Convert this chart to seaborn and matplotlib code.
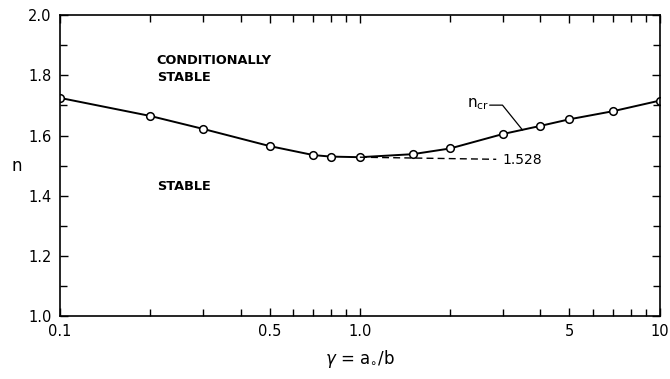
import matplotlib
matplotlib.use("Agg")
import matplotlib.pyplot as plt
import seaborn as sns
import pandas as pd
from matplotlib.ticker import FixedLocator, FixedFormatter, NullFormatter

sns.set_theme(style="ticks")
plt.rcParams['font.family'] = ['DejaVu Sans']
plt.rcParams['text.color'] = 'black'
plt.rcParams['axes.labelcolor'] = 'black'

gamma = [0.1, 0.2, 0.3, 0.5, 0.7, 0.8, 1.0, 1.5, 2.0, 3.0, 4.0, 5.0, 7.0, 10.0]
n_cr = [1.725, 1.665, 1.622, 1.565, 1.535, 1.530, 1.528, 1.538, 1.557, 1.605, 1.632, 1.654, 1.681, 1.716]
xticks_major = [0.1, 0.5, 1.0, 5, 10]
xtick_labels = ["0.1", "0.5", "1.0", "5", "10"]
xticks_minor = [0.2, 0.3, 0.4, 0.6, 0.7, 0.8, 0.9, 2, 3, 4, 6, 7, 8, 9]
yticks_major = [1.0, 1.2, 1.4, 1.6, 1.8, 2.0]
ytick_labels = ["1.0", "1.2", "1.4", "1.6", "1.8", "2.0"]
yticks_minor = [1.1, 1.3, 1.5, 1.7, 1.9]
n_min = 1.528

df = pd.DataFrame({"gamma": gamma, "n": n_cr})

fig = plt.figure(figsize=(6.7, 3.79), dpi=100)
ax = fig.add_axes([0.0896, 0.166, 0.895, 0.794])

sns.lineplot(data=df, x="gamma", y="n", ax=ax, color="black", linewidth=1.4,
             marker="o", markersize=5.5, markerfacecolor="white",
             markeredgecolor="black", markeredgewidth=1.1)

ax.set_xscale("log")
ax.set_xlim(0.1, 10)
ax.set_ylim(1.0, 2.0)

ax.xaxis.set_major_locator(FixedLocator(xticks_major))
ax.xaxis.set_major_formatter(FixedFormatter(xtick_labels))
ax.xaxis.set_minor_locator(FixedLocator(xticks_minor))
ax.xaxis.set_minor_formatter(NullFormatter())
ax.yaxis.set_major_locator(FixedLocator(yticks_major))
ax.yaxis.set_major_formatter(FixedFormatter(ytick_labels))
ax.yaxis.set_minor_locator(FixedLocator(yticks_minor))
ax.yaxis.set_minor_formatter(NullFormatter())

ax.tick_params(which="both", direction="in", top=True, right=True, colors="black",
               labelsize=10.5, width=1.0)
ax.tick_params(which="major", length=6, pad=6)
ax.tick_params(which="minor", length=5)
for s in ax.spines.values():
    s.set_linewidth(1.2)
    s.set_color("black")

ax.set_xlabel(r"$\gamma$ = a$_{\circ}$/b", fontsize=12, labelpad=6)
ax.set_ylabel("n", fontsize=12, rotation=0, va="center")
ax.yaxis.set_label_coords(-0.072, 0.5)

ax.text(0.21, 1.822, "CONDITIONALLY\nSTABLE", fontsize=9.3, fontweight="semibold",
        ha="left", va="center", linespacing=1.4)
ax.text(0.21, 1.429, "STABLE", fontsize=9.3, fontweight="semibold", ha="left", va="center")

ax.plot([1.0, 2.85], [n_min, n_min - 0.007], color="black", linewidth=1.0,
        linestyle=(0, (5, 3)))
ax.text(3.0, n_min - 0.01, "1.528", fontsize=10, ha="left", va="center")

ax.text(2.47, 1.705, "n$_{\\rm cr}$", fontsize=11, ha="center", va="center")
ax.plot([2.71, 2.99, 3.49], [1.701, 1.701, 1.618], color="black", linewidth=0.9)

fig.savefig("out.png", dpi=100)
